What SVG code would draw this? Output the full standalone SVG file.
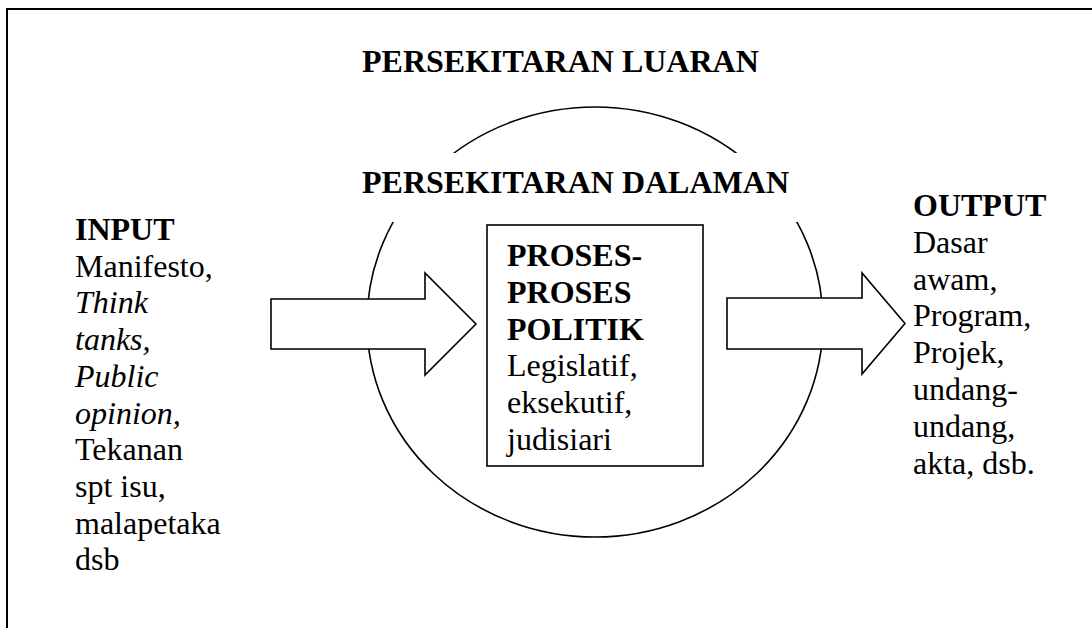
<svg xmlns="http://www.w3.org/2000/svg" width="1092" height="628" viewBox="0 0 1092 628">
<style>
text{font-family:"Liberation Serif","Times New Roman",serif;font-size:32px;fill:#000}
.b{font-weight:bold}
.i{font-style:italic}
.sh{fill:#fff;stroke:#000;stroke-width:1.6}
</style>
<rect width="1092" height="628" fill="#fff"/>
<path d="M7,640 V9 H1100" fill="none" stroke="#000" stroke-width="2"/>
<g id="outer-env">
<text class="b" x="362" y="72">PERSEKITARAN LUARAN</text>
</g>
<g id="inner-env">
<ellipse cx="595" cy="322" rx="228" ry="215" fill="none" stroke="#000" stroke-width="1.6"/>
<rect x="360" y="153" width="445" height="69" fill="#fff"/>
<text class="b" x="362" y="193">PERSEKITARAN DALAMAN</text>
</g>
<g id="connectors">
<polygon class="sh" points="271,299 425,299 425,273 476,324 425,375 425,349 271,349"/>
<polygon class="sh" points="727,298 862,298 862,273 905,323.5 862,374 862,349 727,349"/>
</g>
<g id="input">
<text x="75" y="240"><tspan class="b">INPUT</tspan>
<tspan x="75" dy="36.7">Manifesto,</tspan>
<tspan x="75" dy="36.7" class="i">Think</tspan>
<tspan x="75" dy="36.7" class="i">tanks,</tspan>
<tspan x="75" dy="36.7" class="i">Public</tspan>
<tspan x="75" dy="36.7" class="i">opinion,</tspan>
<tspan x="75" dy="36.7">Tekanan</tspan>
<tspan x="75" dy="36.7">spt isu,</tspan>
<tspan x="75" dy="36.7">malapetaka</tspan>
<tspan x="75" dy="36.7">dsb</tspan></text>
</g>
<g id="process">
<rect class="sh" x="487" y="225" width="216" height="241"/>
<text x="507" y="266"><tspan class="b">PROSES-</tspan>
<tspan x="507" dy="36.8" class="b">PROSES</tspan>
<tspan x="507" dy="36.8" class="b">POLITIK</tspan>
<tspan x="507" dy="36.8">Legislatif,</tspan>
<tspan x="507" dy="36.8">eksekutif,</tspan>
<tspan x="507" dy="36.8">judisiari</tspan></text>
</g>
<g id="output">
<text x="913" y="216"><tspan class="b">OUTPUT</tspan>
<tspan x="913" dy="36.8">Dasar</tspan>
<tspan x="913" dy="36.8">awam,</tspan>
<tspan x="913" dy="36.8">Program,</tspan>
<tspan x="913" dy="36.8">Projek,</tspan>
<tspan x="913" dy="36.8">undang-</tspan>
<tspan x="913" dy="36.8">undang,</tspan>
<tspan x="913" dy="36.8">akta, dsb.</tspan></text>
</g>
</svg>
